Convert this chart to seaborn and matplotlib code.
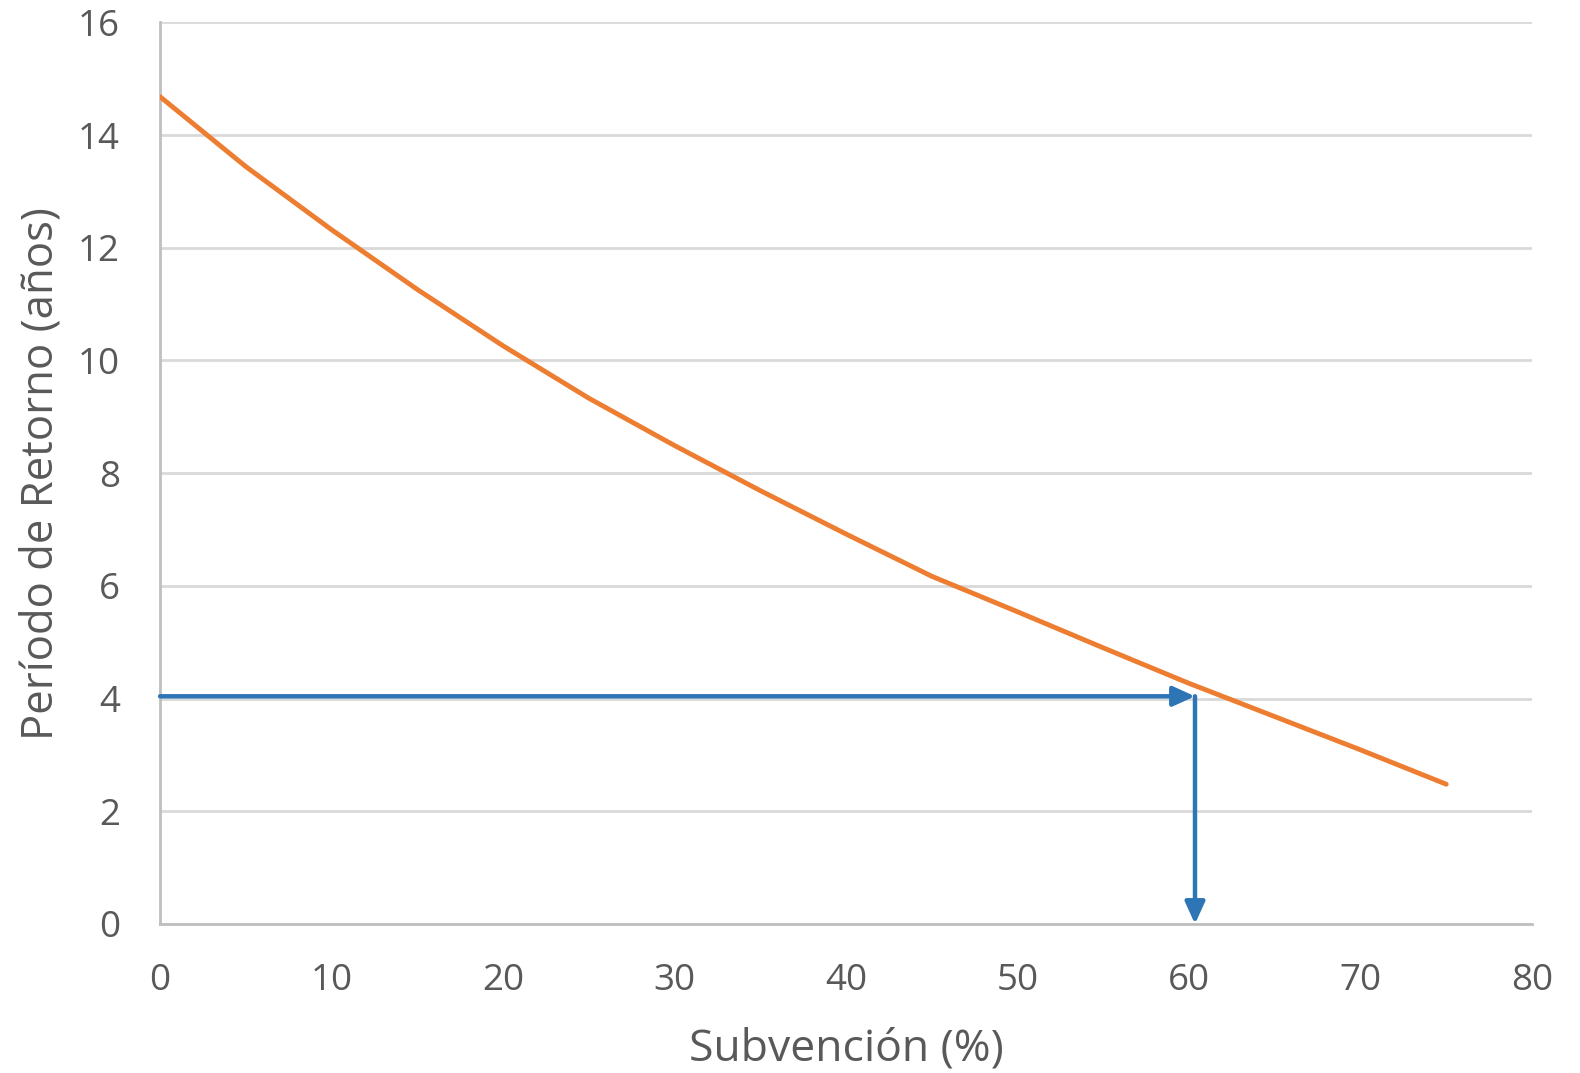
import matplotlib
matplotlib.use("Agg")
import matplotlib.pyplot as plt
import seaborn as sns
import pandas as pd

# Payback period versus subsidy share
subvencion = [0, 5, 10, 15, 20, 25, 30, 35, 40, 45, 50, 55, 60, 65, 70, 75]
periodo = [14.68, 13.44, 12.32, 11.26, 10.26, 9.33, 8.49, 7.69, 6.92, 6.17,
           5.54, 4.90, 4.27, 3.68, 3.09, 2.48]

# Target payback and the subsidy it requires
objetivo_periodo = 4.04
objetivo_subvencion = 60.35

x_ticks = [0, 10, 20, 30, 40, 50, 60, 70, 80]
y_ticks = [0, 2, 4, 6, 8, 10, 12, 14, 16]

df = pd.DataFrame({"Subvención (%)": subvencion,
                   "Período de Retorno (años)": periodo})

sns.set_theme(style="white")
plt.rcParams["font.family"] = ["Open Sans", "DejaVu Sans"]

TEXT = "#595959"
GRID = "#d9d9d9"
ORANGE = "#ED7D31"
BLUE = "#2E75B6"

fig = plt.figure(figsize=(15.8, 10.73), dpi=100)
ax = fig.add_axes([0.1013, 0.1389, 0.8683, 0.8403])

sns.lineplot(data=df, x="Subvención (%)", y="Período de Retorno (años)",
             ax=ax, color=ORANGE, linewidth=3.5, solid_capstyle="round",
             zorder=3)

# Reading arrows: across to the curve, then down to the axis
arrow_style = dict(arrowstyle="-|>,head_length=1.1,head_width=0.5",
                   color=BLUE, lw=3.2, shrinkA=0, shrinkB=0)
ax.annotate("", xy=(objetivo_subvencion, objetivo_periodo),
            xytext=(0, objetivo_periodo), arrowprops=arrow_style, zorder=4)
ax.annotate("", xy=(objetivo_subvencion, 0),
            xytext=(objetivo_subvencion, objetivo_periodo),
            arrowprops=arrow_style, zorder=4)

ax.set_xlim(0, 80)
ax.set_ylim(0, 16)
ax.set_xticks(x_ticks)
ax.set_yticks(y_ticks)
ax.yaxis.grid(True, color=GRID, linewidth=2)
ax.xaxis.grid(False)
ax.set_axisbelow(True)

for side in ["top", "right"]:
    ax.spines[side].set_visible(False)
for side in ["left", "bottom"]:
    ax.spines[side].set_color("#bfbfbf")
    ax.spines[side].set_linewidth(2)

ax.tick_params(axis="both", length=0, labelsize=26.5, labelcolor=TEXT)
ax.tick_params(axis="y", pad=29)
ax.tick_params(axis="x", pad=28)

ax.set_xlabel("Subvención (%)", fontsize=32, color=TEXT, labelpad=20)
ax.set_ylabel("Período de Retorno (años)", fontsize=31.5, color=TEXT,
              labelpad=10)

fig.savefig("out.png", dpi=100, facecolor="white")
